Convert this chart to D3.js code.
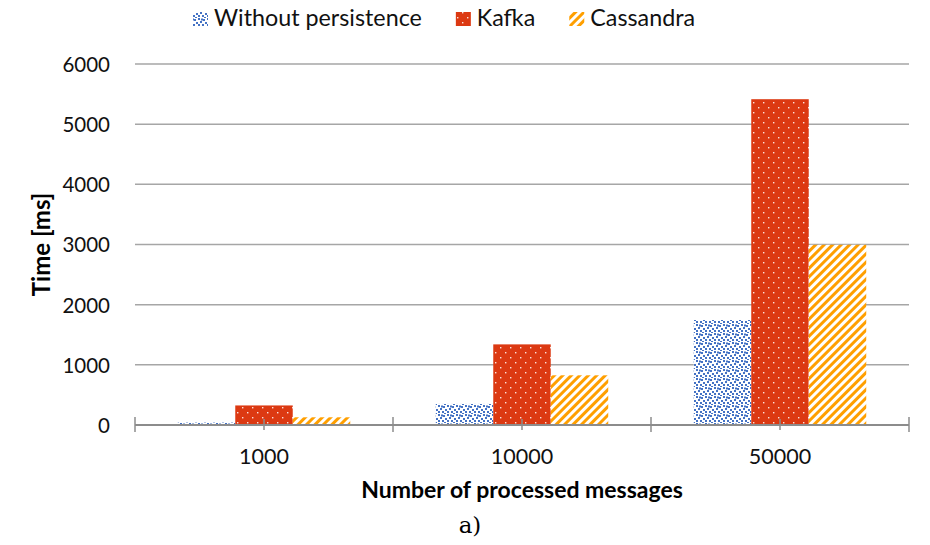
<!DOCTYPE html>
<html>
<head>
<meta charset="utf-8">
<script src="https://cdn.jsdelivr.net/npm/d3@7"></script>
<style>
  body { margin: 0; background: #fff; }
  svg { display: block; font-family: Lato, "Open Sans", sans-serif; }
</style>
</head>
<body>
<svg id="chart" width="930" height="545"></svg>
<script>
// Data
// ----
const categories = ["1000", "10000", "50000"];
const seriesNames = ["Without persistence", "Kafka", "Cassandra"];
const withoutPersistence = [40, 350, 1745];
const kafka = [325, 1340, 5415];
const cassandra = [128, 826, 2995];
const yTicks = [0, 1000, 2000, 3000, 4000, 5000, 6000];

const seriesValues = [withoutPersistence, kafka, cassandra];
const patternIds = ["pat-confetti", "pat-dots", "pat-stripes"];

// Layout
const margin = { left: 135, right: 21, top: 64, bottom: 120 };
const width = 930, height = 545;

const svg = d3.select("#chart");
const defs = svg.append("defs");

// Patterns
// blue confetti
const conf = defs.append("pattern")
    .attr("id", "pat-confetti")
    .attr("patternUnits", "userSpaceOnUse")
    .attr("width", 9).attr("height", 9);
conf.append("rect").attr("width", 9).attr("height", 9).attr("fill", "#fff");
[[0, 0], [5, 1], [2, 3], [7, 4], [0, 6], [4, 6], [6, 8], [3, 0.5]].forEach(p => {
    conf.append("rect").attr("x", p[0]).attr("y", p[1])
        .attr("width", 2).attr("height", 2).attr("fill", "#4472C4");
});

// red with white dots
const dots = defs.append("pattern")
    .attr("id", "pat-dots")
    .attr("patternUnits", "userSpaceOnUse")
    .attr("width", 10).attr("height", 10);
dots.append("rect").attr("width", 10).attr("height", 10).attr("fill", "#DC3912");
[[2, 2], [7, 7]].forEach(p => {
    dots.append("rect").attr("x", p[0]).attr("y", p[1])
        .attr("width", 1.4).attr("height", 1.4).attr("fill", "#fff").attr("opacity", 0.85);
});

// orange diagonal stripes
const stripes = defs.append("pattern")
    .attr("id", "pat-stripes")
    .attr("patternUnits", "userSpaceOnUse")
    .attr("width", 6).attr("height", 6)
    .attr("patternTransform", "rotate(45)");
stripes.append("rect").attr("width", 6).attr("height", 6).attr("fill", "#fff");
stripes.append("rect").attr("width", 3).attr("height", 6).attr("fill", "#FF9F00");

// Scales
const x = d3.scaleBand()
    .domain(categories)
    .range([margin.left, width - margin.right])
    .padding(0);

const x1 = d3.scaleBand()
    .domain(seriesNames)
    .range([0, x.bandwidth()])
    .paddingInner(0)
    .paddingOuter(0.744);

const y = d3.scaleLinear()
    .domain([0, 6000])
    .range([height - margin.bottom, margin.top]);

// Gridlines
svg.append("g")
    .selectAll("line")
    .data(yTicks.slice(1))
    .join("line")
    .attr("x1", margin.left).attr("x2", width - margin.right)
    .attr("y1", d => y(d)).attr("y2", d => y(d))
    .attr("stroke", "#a6a6a6").attr("stroke-width", 1.5);

// Y axis labels
const yAxis = svg.append("g")
    .attr("transform", `translate(${margin.left - 25},0)`)
    .call(d3.axisLeft(y).tickValues(yTicks).tickSize(0).tickPadding(0).tickFormat(d3.format("d")));
yAxis.select(".domain").remove();
yAxis.selectAll("text")
    .attr("font-family", "Lato, sans-serif")
    .attr("font-size", 20.5)
    .attr("fill", "#111")
    .attr("dy", "0.36em");

// Bars
const groups = svg.append("g")
    .selectAll("g")
    .data(categories)
    .join("g")
    .attr("transform", d => `translate(${x(d)},0)`);

groups.selectAll("rect")
    .data((c, ci) => seriesNames.map((s, si) => ({ s, si, v: seriesValues[si][ci] })))
    .join("rect")
    .attr("x", d => x1(d.s))
    .attr("width", x1.bandwidth())
    .attr("y", d => y(d.v))
    .attr("height", d => y(0) - y(d.v))
    .attr("fill", d => `url(#${patternIds[d.si]})`);

// X axis line and ticks
const xAxisG = svg.append("g");
xAxisG.append("line")
    .attr("x1", margin.left).attr("x2", width - margin.right)
    .attr("y1", y(0)).attr("y2", y(0))
    .attr("stroke", "#8c8c8c").attr("stroke-width", 2);

const boundaries = categories.map(c => x(c)).concat([x(categories[categories.length - 1]) + x.bandwidth()]);
xAxisG.selectAll("line.bound")
    .data(boundaries)
    .join("line")
    .attr("class", "bound")
    .attr("x1", d => d).attr("x2", d => d)
    .attr("y1", y(0) - 8).attr("y2", y(0) + 7)
    .attr("stroke", "#8c8c8c").attr("stroke-width", 1.5);

xAxisG.selectAll("line.mid")
    .data(categories)
    .join("line")
    .attr("class", "mid")
    .attr("x1", d => x(d) + x.bandwidth() / 2).attr("x2", d => x(d) + x.bandwidth() / 2)
    .attr("y1", y(0) - 6).attr("y2", y(0) + 5)
    .attr("stroke", "#8c8c8c").attr("stroke-width", 1.5);

xAxisG.selectAll("text")
    .data(categories)
    .join("text")
    .attr("x", d => x(d) + x.bandwidth() / 2)
    .attr("y", 464)
    .attr("text-anchor", "middle")
    .attr("font-size", 21.5)
    .attr("fill", "#111")
    .text(d => d);

// Axis titles
svg.append("text")
    .attr("x", (margin.left + width - margin.right) / 2)
    .attr("y", 498)
    .attr("text-anchor", "middle")
    .attr("font-size", 23)
    .attr("font-weight", "bold")
    .attr("fill", "#000")
    .text("Number of processed messages");

svg.append("text")
    .attr("transform", `translate(50,${(margin.top + height - margin.bottom) / 2}) rotate(-90)`)
    .attr("text-anchor", "middle")
    .attr("font-size", 24)
    .attr("font-weight", "bold")
    .attr("fill", "#000")
    .text("Time [ms]");

// Caption
svg.append("text")
    .attr("x", 470)
    .attr("y", 533)
    .attr("text-anchor", "middle")
    .attr("font-family", "'DejaVu Serif', 'Liberation Serif', serif")
    .attr("font-size", 23)
    .attr("fill", "#000")
    .text("a)");

// Legend
const legend = svg.append("g");
let lx = 193;
seriesNames.forEach((name, i) => {
    legend.append("rect")
        .attr("x", lx).attr("y", 12)
        .attr("width", 15).attr("height", 14)
        .attr("fill", `url(#${patternIds[i]})`);
    const t = legend.append("text")
        .attr("x", lx + 21).attr("y", 26)
        .attr("font-size", 23.3)
        .attr("fill", "#111")
        .text(name);
    lx += 21 + t.node().getComputedTextLength() + 34;
});
</script>
</body>
</html>
